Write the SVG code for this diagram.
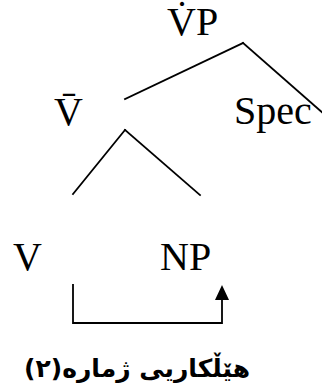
<svg xmlns="http://www.w3.org/2000/svg" width="322" height="389" viewBox="0 0 322 389">
<defs>
<style>
.lbl{font-family:"Liberation Serif","Times New Roman",serif;font-size:40px;fill:#000}
.cap{font-family:"DejaVu Sans",sans-serif;font-size:25px;font-weight:bold;fill:#000}
.ln{stroke:#000;stroke-width:1.8;fill:none;stroke-linecap:square}
</style>
</defs>
<rect width="322" height="389" fill="#fff"/>
<g id="connectors">
<line class="ln" x1="125" y1="99" x2="243" y2="43"/>
<line class="ln" x1="243" y1="43" x2="324" y2="114"/>
<line class="ln" x1="73" y1="194" x2="125" y2="130"/>
<line class="ln" x1="125" y1="130" x2="200" y2="195"/>
<polyline class="ln" points="73,285 73,323 222,323 222,298"/>
<polygon points="215,300 229,300 222,285" fill="#000"/>
</g>
<g id="VP"><text class="lbl" x="167" y="35">V̇P</text></g>
<g id="Vbar"><text class="lbl" x="54" y="125">V̄</text></g>
<g id="Spec"><text class="lbl" x="234" y="124">Spec</text></g>
<g id="V"><text class="lbl" x="13" y="270">V</text></g>
<g id="NP"><text class="lbl" x="160" y="270">NP</text></g>
<g id="caption"><text class="cap" x="137" y="377" text-anchor="middle" direction="rtl">هێڵکاریی ژماره(٢)</text></g>
</svg>
